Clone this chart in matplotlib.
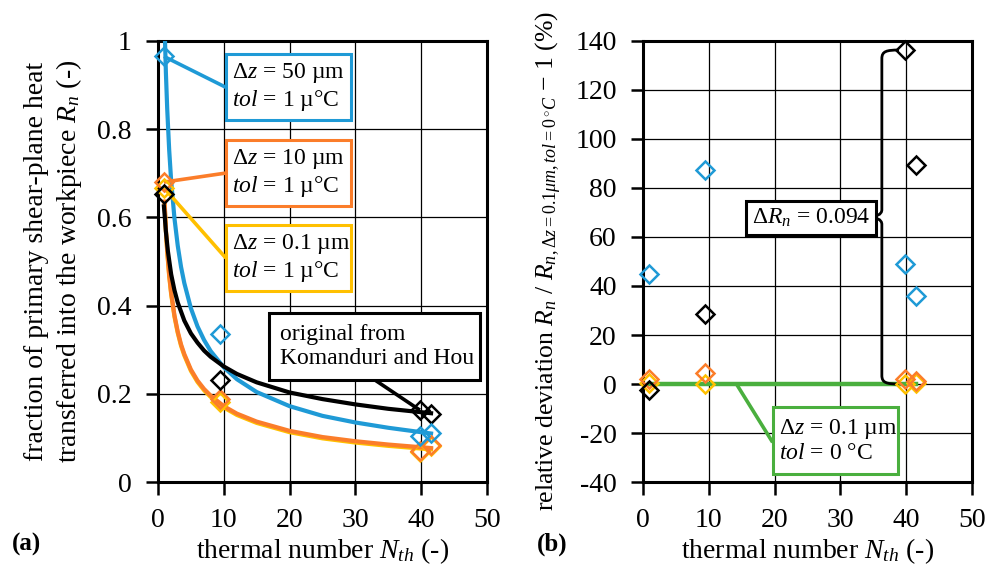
import numpy as np
import matplotlib.pyplot as plt
from matplotlib.patches import Rectangle, PathPatch
from matplotlib.path import Path

plt.rcParams['font.family'] = ['Liberation Serif', 'DejaVu Serif']
plt.rcParams['mathtext.fontset'] = 'custom'
plt.rcParams['mathtext.rm'] = 'Liberation Serif'
plt.rcParams['mathtext.it'] = 'Liberation Serif:italic'
plt.rcParams['mathtext.bf'] = 'Liberation Serif:bold'

# ----------------------------------------------------------------------------
# data
# ----------------------------------------------------------------------------
n_th = [0.9, 9.4, 39.8, 41.5]                 # thermal numbers of the simulations

# (a) fraction R_n
rn_blue   = [0.965, 0.335, 0.104, 0.111]       # dz = 50 um, tol = 1 u°C
rn_orange = [0.680, 0.188, 0.070, 0.083]       # dz = 10 um, tol = 1 u°C
rn_yellow = [0.667, 0.181, 0.069, 0.081]       # dz = 0.1 um, tol = 1 u°C
rn_black  = [0.652, 0.231, 0.163, 0.154]       # Komanduri and Hou

# fitted trend curves (read as points along the curves)
fit_x      = [1.0, 1.2, 1.4, 1.7, 2, 2.5, 3, 3.5, 4, 5, 6, 7, 8, 10, 12, 15, 20, 25, 30, 35, 41.5]
fit_blue   = [1.036, 0.928, 0.846, 0.753, 0.683, 0.598, 0.536, 0.488, 0.451, 0.394, 0.353,
              0.322, 0.297, 0.260, 0.233, 0.204, 0.172, 0.150, 0.135, 0.123, 0.110]
fit_orange = [0.636, 0.573, 0.525, 0.470, 0.429, 0.378, 0.341, 0.312, 0.290, 0.255, 0.230,
              0.211, 0.196, 0.172, 0.155, 0.137, 0.116, 0.102, 0.0925, 0.085, 0.077]
fit_yellow = [0.633, 0.570, 0.522, 0.467, 0.426, 0.375, 0.338, 0.309, 0.287, 0.252, 0.227,
              0.208, 0.193, 0.169, 0.152, 0.134, 0.113, 0.099, 0.0895, 0.082, 0.074]
fit_black_x = [0.9, 1.0, 1.2, 1.5, 2, 2.5, 3, 4, 5, 6, 7, 8, 10, 12, 15, 20, 25, 30, 35, 41.5]
fit_black   = [0.625, 0.607, 0.568, 0.524, 0.471, 0.435, 0.407, 0.366, 0.337, 0.316, 0.298,
               0.284, 0.262, 0.245, 0.226, 0.203, 0.188, 0.176, 0.166, 0.156]

# (b) relative deviation (%)
dev_blue   = [44.7, 87.5, 48.8, 36.1]
dev_black  = [-2.6, 28.5, 136.3, 89.3]
dev_orange = [2.1, 4.5, 2.1, 1.4]
dev_yellow = [0.5, 0.0, 0.0, 0.3]
dev_green  = [0.0, 0.0, 0.0, 0.0]              # dz = 0.1 um, tol = 0 °C (reference)
delta_rn   = 0.094

c_blue   = '#1f9ad6'
c_orange = '#fb7d2a'
c_yellow = '#ffc000'
c_green  = '#4aaf3e'
c_black  = 'black'

fs = 20

def style_axes(ax, ylim, yticks, yticklabels):
    ax.set_xlim(0, 50)
    ax.set_ylim(*ylim)
    ax.set_xticks(range(0, 51, 10))
    ax.set_yticks(yticks)
    ax.set_yticklabels(yticklabels)
    ax.grid(True, color='black', linewidth=0.9)
    ax.set_axisbelow(True)
    for s in ax.spines.values():
        s.set_linewidth(2.2)
    ax.tick_params(direction='out', length=9, width=1.8, labelsize=fs, pad=10)
    ax.set_xlabel(r'thermal number $N_{th}$ (-)', fontsize=fs, labelpad=2)

def callout(ax, box, text, color, anchor, start=None):
    x0, y0, x1, y1 = box
    ax.add_patch(Rectangle((x0, y0), x1 - x0, y1 - y0, facecolor='white',
                           edgecolor=color, linewidth=2.2, zorder=6))
    ax.text(x0 + 0.05 * (x1 - x0), (y0 + y1) / 2, text, ha='left', va='center',
            fontsize=17, linespacing=1.15, zorder=7)
    if start is None:
        start = (x0, (y0 + y1) / 2)
    ax.plot([start[0], anchor[0]], [start[1], anchor[1]], color=color,
            linewidth=2.6, zorder=4, solid_capstyle='butt')

fig = plt.figure(figsize=(9.85, 5.77), dpi=100)
ax1 = fig.add_axes([0.1604, 0.1646, 0.334, 0.7644])
ax2 = fig.add_axes([0.6528, 0.1646, 0.334, 0.7644])

###############################################################################
#                                  Panel (a)                                  #
###############################################################################
style_axes(ax1, (0, 1), np.arange(0, 1.01, 0.2), ['0', '0.2', '0.4', '0.6', '0.8', '1'])

ax1.plot(fit_x, fit_yellow, color=c_yellow, linewidth=3, zorder=3)
ax1.plot(fit_x, fit_orange, color=c_orange, linewidth=3, zorder=3)
ax1.plot(fit_x, fit_blue, color=c_blue, linewidth=3, zorder=3)
ax1.plot(fit_black_x, fit_black, color=c_black, linewidth=3, zorder=3)

mk = dict(marker='D', linestyle='none', markersize=9.5, markerfacecolor='none',
          markeredgewidth=1.8, zorder=5, clip_on=False)
ax1.plot(n_th, rn_yellow, markeredgecolor=c_yellow, **mk)
ax1.plot(n_th, rn_orange, markeredgecolor=c_orange, **mk)
ax1.plot(n_th, rn_black, markeredgecolor=c_black, **mk)
ax1.plot(n_th, rn_blue, markeredgecolor=c_blue, **mk)

callout(ax1, (10.3, 0.820, 29.3, 0.970), '$\\Delta z$ = 50 µm\n$tol$ = 1 µ°C',
        c_blue, (n_th[0], rn_blue[0]))
callout(ax1, (10.3, 0.626, 29.3, 0.775), '$\\Delta z$ = 10 µm\n$tol$ = 1 µ°C',
        c_orange, (n_th[0], rn_orange[0]))
callout(ax1, (10.3, 0.433, 29.3, 0.583), '$\\Delta z$ = 0.1 µm\n$tol$ = 1 µ°C',
        c_yellow, (n_th[0], rn_yellow[0]))
callout(ax1, (16.9, 0.231, 48.9, 0.383), 'original from\nKomanduri and Hou',
        c_black, (n_th[2], rn_black[2]), start=(33.0, 0.231))

ax1.set_ylabel('fraction of primary shear-plane heat\n'
               r'transferred into the workpiece $R_n$ (-)',
               fontsize=fs, linespacing=1.25, labelpad=9)
fig.text(0.012, 0.045, '(a)', fontsize=18, fontweight='bold')

###############################################################################
#                                  Panel (b)                                  #
###############################################################################
style_axes(ax2, (-40, 140), range(-40, 141, 20), [str(v) for v in range(-40, 141, 20)])

ax2.plot(n_th, dev_green, color=c_green, linewidth=3.2, zorder=3)
ax2.plot(n_th, dev_yellow, markeredgecolor=c_yellow, **mk)
ax2.plot(n_th, dev_orange, markeredgecolor=c_orange, **mk)
ax2.plot(n_th, dev_black, markeredgecolor=c_black, **mk)
ax2.plot(n_th, dev_blue, markeredgecolor=c_blue, **mk)

callout(ax2, (19.7, -36.7, 38.8, -9.2), '$\\Delta z$ = 0.1 µm\n$tol$ = 0 °C',
        c_green, (14.2, dev_green[0]), start=(19.7, -23.8))

# brace spanning the black deviation at N_th ~ 40
top, bot = dev_black[2], dev_green[2]
mid = (top + bot) / 2
bx, tip = 36.3, 34.0
verts = [(38.9, top), (37.0, top), (bx, top - 0.5), (bx, top - 3.5),
         (bx, mid + 3), (bx, mid), (tip, mid),
         (bx, mid), (bx, mid - 3),
         (bx, bot + 3.5), (bx, bot + 0.5), (37.0, bot), (38.9, bot)]
codes = [Path.MOVETO, Path.CURVE4, Path.CURVE4, Path.CURVE4,
         Path.LINETO, Path.CURVE3, Path.CURVE3,
         Path.CURVE3, Path.CURVE3,
         Path.LINETO, Path.CURVE4, Path.CURVE4, Path.CURVE4]
ax2.add_patch(PathPatch(Path(verts, codes), facecolor='none', edgecolor='black',
                        linewidth=2, zorder=4))

ax2.text(15.6 + 0.9, 67.7, r'$\Delta R_n$ = %.3f' % delta_rn, ha='left', va='center',
         fontsize=17, zorder=7,
         bbox=dict(boxstyle='square,pad=0.25', facecolor='white', edgecolor='black',
                   linewidth=2.2))

ax2.set_ylabel(r'relative deviation $R_n$ / $R_{n,\Delta z=0.1\mu m,tol=0\,^{\circ}C}$ $-$ 1 (%)',
               fontsize=18.5, labelpad=8)
fig.text(0.545, 0.045, '(b)', fontsize=18, fontweight='bold')

fig.savefig('out.png', dpi=100)
